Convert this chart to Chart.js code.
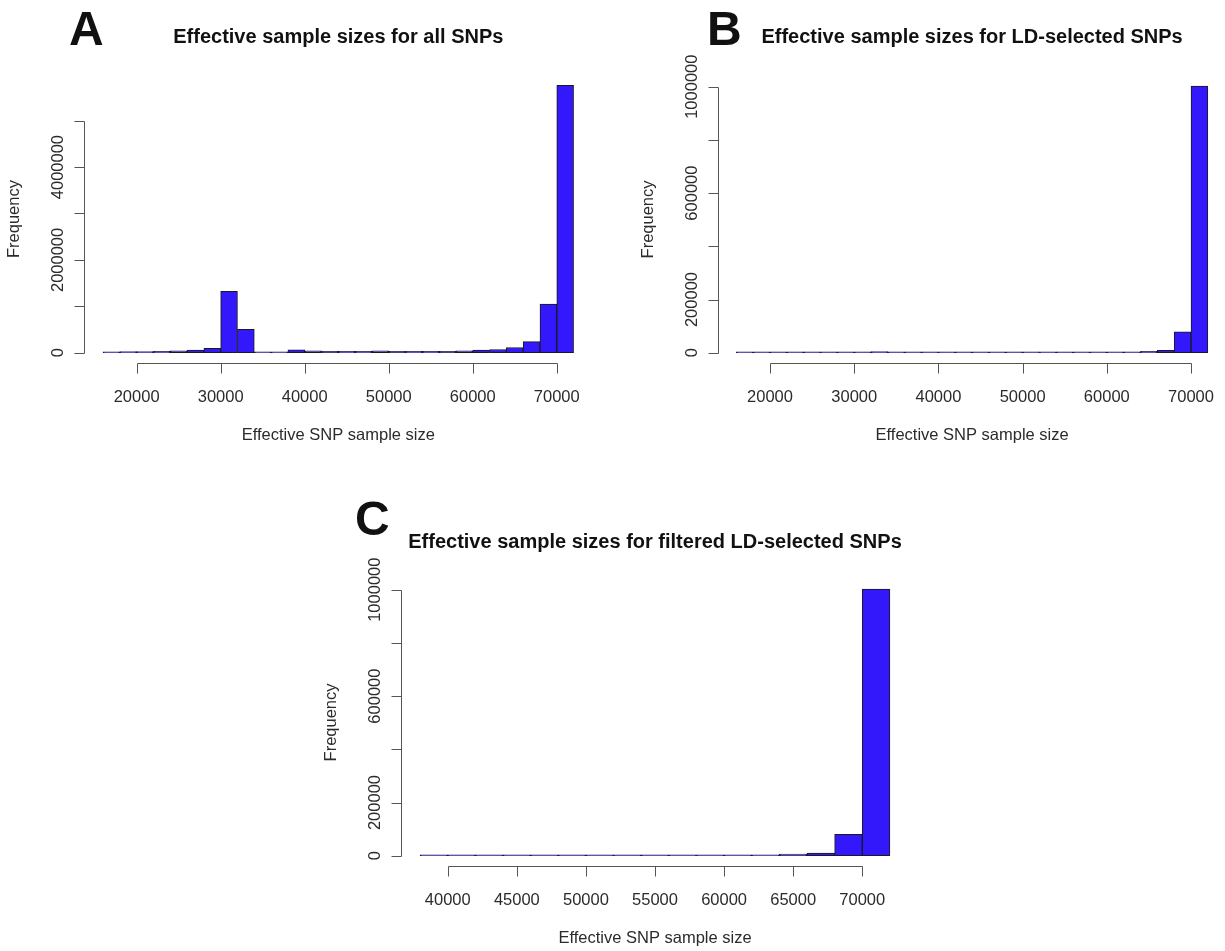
<!DOCTYPE html>
<html><head><meta charset="utf-8">
<script src="https://cdn.jsdelivr.net/npm/chart.js@4.4.0/dist/chart.umd.min.js"></script>
<style>
html,body{margin:0;padding:0;background:#fff;overflow:hidden;width:1225px;height:951px;}
canvas{position:absolute;left:0;top:0;}
</style></head><body>
<canvas id="cA" width="1240" height="951"></canvas>
<canvas id="cB" width="1240" height="951"></canvas>
<canvas id="cC" width="1240" height="951"></canvas>
<script>
// ---- data (bin centres, bin width 2000) ----
const binsAB = [17000,19000,21000,23000,25000,27000,29000,31000,33000,35000,37000,39000,41000,43000,45000,47000,49000,51000,53000,55000,57000,59000,61000,63000,65000,67000,69000,71000];
const countsA = [5000,25000,25000,28000,40000,55000,95000,1320000,505000,6000,6000,60000,42000,30000,28000,28000,40000,30000,28000,28000,30000,40000,55000,70000,112000,238000,1050000,5760000];
const countsB = [1500,1500,1500,1500,1500,1500,2000,2000,4000,1000,1000,2000,2000,1500,1500,1500,3000,2000,1500,1500,1500,1500,2000,2500,5000,8800,79000,1002000];
const binsC = [39000,41000,43000,45000,47000,49000,51000,53000,55000,57000,59000,61000,63000,65000,67000,69000,71000];
const countsC = [1000,1000,1000,1000,1000,2500,1000,1000,1000,1000,1000,1000,2500,6000,10000,80500,1002000];
const binWidth = 2000;

const xTicksAB = [20000,30000,40000,50000,60000,70000];
const xTicksC = [40000,45000,50000,55000,60000,65000,70000];
const yTicksA = [0,1000000,2000000,3000000,4000000,5000000];
const yLabelsA = ['0','','2000000','','4000000',''];
const yTicksBC = [0,200000,400000,600000,800000,1000000];
const yLabelsBC = ['0','200000','','600000','','1000000'];

const titles = ['Effective sample sizes for all SNPs','Effective sample sizes for LD-selected SNPs','Effective sample sizes for filtered LD-selected SNPs'];
const letters = ['A','B','C'];
const xTitle = 'Effective SNP sample size';
const yTitle = 'Frequency';

const FONT = '"Liberation Sans", Arial, Helvetica, sans-serif';
const BAR = '#3218FA';

const rAxes = {
  id: 'rAxes',
  afterDraw(chart, args, o) {
    const ctx = chart.ctx, ca = chart.chartArea, x = chart.scales.x, y = chart.scales.y;
    ctx.save();
    ctx.strokeStyle = '#555'; ctx.lineWidth = 1;
    // x axis
    const xa = Math.round(ca.bottom) + 0.5;
    ctx.beginPath();
    ctx.moveTo(Math.round(x.getPixelForValue(o.xTicks[0])) + 0.5, xa);
    ctx.lineTo(Math.round(x.getPixelForValue(o.xTicks[o.xTicks.length - 1])) + 0.5, xa);
    o.xTicks.forEach(v => { const p = Math.round(x.getPixelForValue(v)) + 0.5; ctx.moveTo(p, xa); ctx.lineTo(p, xa + 10); });
    // y axis
    const ya = Math.round(ca.left) + 0.5;
    ctx.moveTo(ya, Math.round(y.getPixelForValue(o.yTicks[0])) + 0.5);
    ctx.lineTo(ya, Math.round(y.getPixelForValue(o.yTicks[o.yTicks.length - 1])) + 0.5);
    o.yTicks.forEach(v => { const p = Math.round(y.getPixelForValue(v)) + 0.5; ctx.moveTo(ya, p); ctx.lineTo(ya - 10, p); });
    ctx.stroke();

    ctx.fillStyle = '#2b2b2b';
    ctx.font = '16.5px ' + FONT;
    ctx.textAlign = 'center'; ctx.textBaseline = 'alphabetic';
    o.xTicks.forEach(v => ctx.fillText(String(v), x.getPixelForValue(v), xa + 38));
    ctx.fillText(xTitle, (ca.left + ca.right) / 2, xa + 76);
    o.yTicks.forEach((v, i) => {
      const lab = o.yLabels[i]; if (!lab) return;
      ctx.save(); ctx.translate(ya - 22, y.getPixelForValue(v)); ctx.rotate(-Math.PI / 2);
      ctx.fillText(lab, 0, 0); ctx.restore();
    });
    ctx.save(); ctx.translate(ya - 66, (ca.top + ca.bottom) / 2); ctx.rotate(-Math.PI / 2);
    ctx.fillText(yTitle, 0, 0); ctx.restore();

    ctx.fillStyle = '#111';
    ctx.font = 'bold 20px ' + FONT;
    ctx.fillText(o.title, (ca.left + ca.right) / 2, o.titleY);
    ctx.font = 'bold 48px ' + FONT;
    ctx.textAlign = 'left';
    ctx.fillText(o.letter, o.letterX, o.letterY);
    ctx.restore();
  }
};

function makeChart(id, bins, counts, region, xLim, opts) {
  const maxC = Math.max(...counts);
  const W = 1240, H = 951;
  return new Chart(document.getElementById(id), {
    type: 'bar',
    data: { datasets: [{
      data: bins.map((b, i) => ({ x: b, y: counts[i] })),
      backgroundColor: BAR, borderColor: '#1a1a1a', borderWidth: 1,
      borderSkipped: false, barPercentage: 1, categoryPercentage: 1, minBarLength: 1
    }] },
    options: {
      responsive: false, animation: false, devicePixelRatio: 1,
      layout: { padding: { left: region[0], top: region[1], right: W - region[2], bottom: H - region[3] } },
      scales: {
        x: { type: 'linear', display: false, offset: false, min: xLim[0], max: xLim[1],
             afterBuildTicks: s => { s.ticks = opts.xTicks.map(v => ({ value: v })); } },
        y: { display: false, min: -0.04 * maxC, max: 1.04 * maxC }
      },
      plugins: { legend: { display: false }, title: { display: false }, tooltip: { enabled: false }, rAxes: opts }
    },
    plugins: [rAxes]
  });
}

function xLimits(bins) {
  const lo = bins[0] - binWidth / 2, hi = bins[bins.length - 1] + binWidth / 2, pad = 0.04 * (hi - lo);
  return [lo - pad, hi + pad];
}

makeChart('cA', binsAB, countsA, [84.2, 74.7, 592.4, 363.4], xLimits(binsAB),
  { xTicks: xTicksAB, yTicks: yTicksA, yLabels: yLabelsA, title: titles[0], titleY: 42.7, letter: letters[0], letterX: 69, letterY: 45 });
makeChart('cB', binsAB, countsB, [717.5, 75.5, 1226.7, 363.4], xLimits(binsAB),
  { xTicks: xTicksAB, yTicks: yTicksBC, yLabels: yLabelsBC, title: titles[1], titleY: 42.7, letter: letters[1], letterX: 707, letterY: 45 });
makeChart('cC', binsC, countsC, [401.3, 578.5, 908.7, 866.4], xLimits(binsC),
  { xTicks: xTicksC, yTicks: yTicksBC, yLabels: yLabelsBC, title: titles[2], titleY: 548.3, letter: letters[2], letterX: 355, letterY: 535 });
</script>
</body></html>
